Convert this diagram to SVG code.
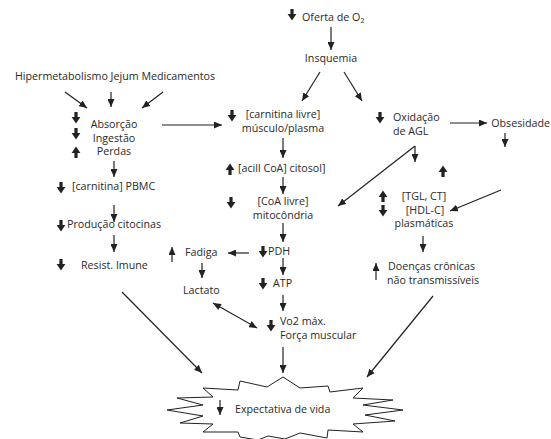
<svg xmlns="http://www.w3.org/2000/svg" width="551" height="439" viewBox="0 0 551 439">
<style>
text{font-family:"Open Sans","Noto Sans","DejaVu Sans",sans-serif;font-size:10.7px;fill:#2a2a2a}
.m{text-anchor:middle}
.e{text-anchor:end}
.c{stroke:#222;stroke-width:1.2;fill:none;marker-end:url(#ah)}
.b{fill:#222}
</style>
<defs>
<marker id="ah" markerUnits="userSpaceOnUse" markerWidth="9" markerHeight="7" refX="8" refY="3.5" orient="auto"><path d="M0,0 L8,3.5 L0,7 z" fill="#222"/></marker>
<marker id="as" markerUnits="userSpaceOnUse" markerWidth="9" markerHeight="7" refX="0" refY="3.5" orient="auto"><path d="M8,0 L0,3.5 L8,7 z" fill="#222"/></marker>
<path id="bd" d="M-1.6,-6 h3.2 v5 h2.8 l-4.4,6.5 l-4.4,-6.5 h2.8 z"/>
</defs>
<g id="connectors">
<path class="c" d="M331,27 V50"/>
<path class="c" d="M320,72 L302,101"/>
<path class="c" d="M344,72 L362,101"/>
<path class="c" d="M65,92 L87,108"/>
<path class="c" d="M111,92 V107"/>
<path class="c" d="M163,92 L142,108"/>
<path class="c" d="M162,125 H222"/>
<path class="c" d="M283,138 V158"/>
<path class="c" d="M283,177 V194"/>
<path class="c" d="M283,223 V242"/>
<path class="c" d="M249,253 H228"/>
<path class="c" d="M202,263 V278"/>
<path class="c" d="M283,258 V275"/>
<path class="c" d="M283,295 V311"/>
<path class="c" d="M213,303 L257,328" marker-start="url(#as)"/>
<path class="c" d="M283,347 V373"/>
<path class="c" d="M114,161 V177"/>
<path class="c" d="M114,205 V222"/>
<path class="c" d="M114,235 V252"/>
<path class="c" d="M122,292 L202,373"/>
<path class="c" d="M450,123 H487"/>
<path class="c" d="M505,133 V147"/>
<path class="c" d="M415,146 L338,206"/>
<path class="c" d="M415,146 V162"/>
<path class="c" d="M501,190 L450,211"/>
<path class="c" d="M423,236 V252"/>
<path class="c" d="M433,296 L367,377"/>
</g>
<g id="n-expectativa">
<path d="M283,377 L300,388 L328,386 L330,392 L363,388 L353,398 L393,400 L363,405 L403,410 L365,415 L395,421 L353,424 L363,432 L328,430 L327,438 L300,433 L285,439 L268,436 L258,440 L240,437 L238,432 L203,432 L213,424 L180,423 L203,416 L167,410 L203,405 L177,398 L213,397 L203,388 L238,390 L240,381 L267,387 Z" fill="#fff" stroke="#222" stroke-width="1"/>
<path class="c" d="M220,400 V415"/>
<text x="235" y="413">Expectativa de vida</text>
</g>
<g id="n-oferta">
<use href="#bd" x="292" y="15" class="b"/>
<text x="302" y="21">Oferta de O<tspan font-size="7" dy="2">2</tspan></text>
</g>
<g id="n-insquemia"><text class="m" x="331" y="62">Insquemia</text></g>
<g id="n-causas"><text class="m" x="115" y="80">Hipermetabolismo Jejum Medicamentos</text></g>
<g id="n-absorcao">
<use href="#bd" x="76" y="118" class="b"/>
<use href="#bd" x="76" y="134" class="b"/>
<use href="#bd" transform="translate(76,152) rotate(180)" class="b"/>
<text class="m" x="114" y="128">Absorção</text>
<text class="m" x="114" y="141.5">Ingestão</text>
<text class="m" x="114" y="155">Perdas</text>
</g>
<g id="n-carnitina-livre">
<use href="#bd" x="232" y="116" class="b"/>
<text class="m" x="283" y="118">[carnitina livre]</text>
<text class="m" x="283" y="132">músculo/plasma</text>
</g>
<g id="n-acil">
<use href="#bd" transform="translate(230,169) rotate(180)" class="b"/>
<text x="238" y="172">[acill CoA] citosol]</text>
</g>
<g id="n-coa">
<use href="#bd" x="231" y="203" class="b"/>
<text class="m" x="283" y="205">[CoA livre]</text>
<text class="m" x="283" y="218.5">mitocôndria</text>
</g>
<g id="n-pdh">
<use href="#bd" x="263" y="252" class="b"/>
<text x="268" y="255">PDH</text>
</g>
<g id="n-fadiga">
<path class="c" d="M172,262 V247"/>
<text x="185" y="256">Fadiga</text>
</g>
<g id="n-lactato"><text x="183" y="294">Lactato</text></g>
<g id="n-atp">
<use href="#bd" x="263" y="284" class="b"/>
<text x="273" y="287">ATP</text>
</g>
<g id="n-vo2">
<use href="#bd" x="271" y="326" class="b"/>
<text x="280" y="325">Vo2 máx.</text>
<text x="280" y="339">Força muscular</text>
</g>
<g id="n-pbmc">
<use href="#bd" x="61" y="188" class="b"/>
<text x="72" y="190">[carnitina] PBMC</text>
</g>
<g id="n-citocinas">
<use href="#bd" x="61" y="226" class="b"/>
<text x="67" y="228">Produção citocinas</text>
</g>
<g id="n-imune">
<use href="#bd" x="61" y="265" class="b"/>
<text x="81" y="269">Resist. Imune</text>
</g>
<g id="n-oxidacao">
<use href="#bd" x="380" y="118" class="b"/>
<text x="393" y="121">Oxidação</text>
<text x="393" y="135">de AGL</text>
</g>
<g id="n-obesidade"><text class="e" x="550" y="127">Obsesidade</text></g>
<g id="n-up-tgl"><use href="#bd" transform="translate(443,171) rotate(180)" class="b"/></g>
<g id="n-tgl">
<use href="#bd" transform="translate(383,196) rotate(180)" class="b"/>
<use href="#bd" x="383" y="211" class="b"/>
<text class="m" x="424" y="200">[TGL, CT]</text>
<text class="m" x="425" y="213.5">[HDL-C]</text>
<text class="m" x="424" y="227">plasmáticas</text>
</g>
<g id="n-doencas">
<path class="c" d="M376,280 V263"/>
<text x="388" y="270">Doenças crônicas</text>
<text x="387" y="283.5">não transmissíveis</text>
</g>
</svg>
